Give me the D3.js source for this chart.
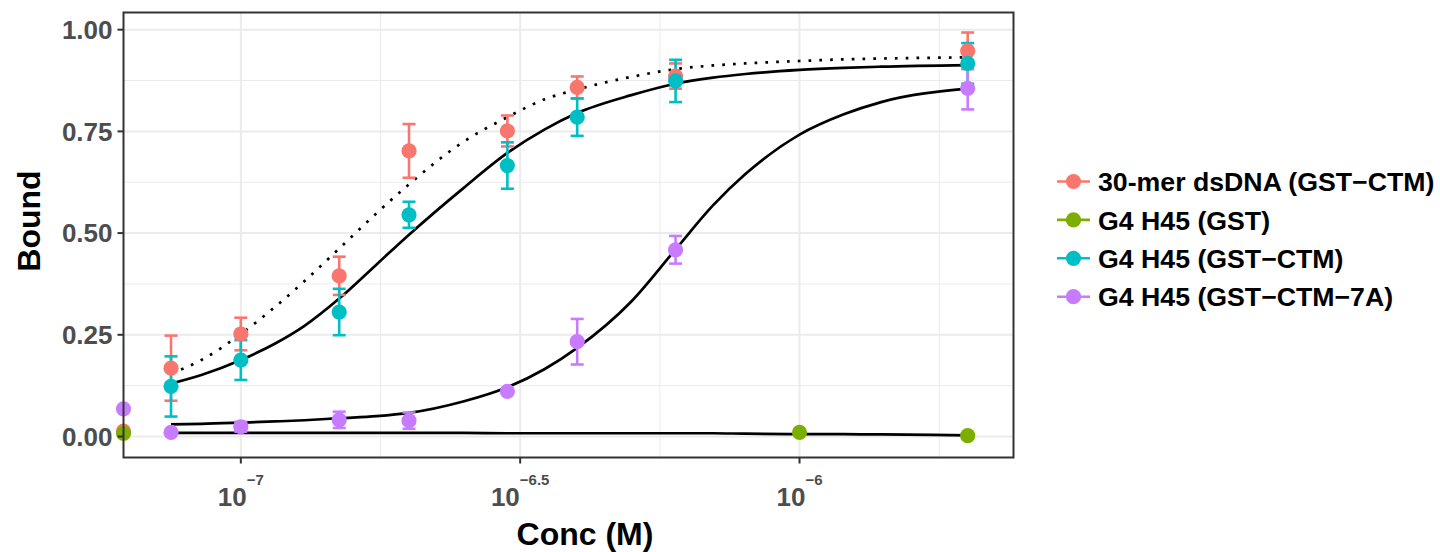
<!DOCTYPE html>
<html>
<head>
<meta charset="utf-8">
<script src="https://cdn.jsdelivr.net/npm/d3@7"></script>
<style>
  html, body { margin: 0; padding: 0; background: #fff; }
  svg { display: block; }
  text { font-family: "Liberation Sans", Arial, sans-serif; font-weight: bold; }
</style>
</head>
<body>
<svg id="chart" width="1440" height="552"></svg>
<script>
// ---------------- data ----------------
const seriesNames = ["30-mer dsDNA (GST\u2212CTM)", "G4 H45 (GST)", "G4 H45 (GST\u2212CTM)", "G4 H45 (GST\u2212CTM\u22127A)"];
const seriesColors = ["#F8766D", "#7CAE00", "#00BFC4", "#C77CFF"];

// concentration 0 = plotted at the left panel edge (-Inf on log axis)
const dsConc  = [0, 7.5e-8, 1e-7, 1.5e-7, 2e-7, 3e-7, 4e-7, 6e-7, 2e-6];
const dsBound = [0.013, 0.168, 0.252, 0.395, 0.702, 0.751, 0.858, 0.886, 0.948];
const dsErr   = [0, 0.080, 0.040, 0.047, 0.066, 0.038, 0.027, 0.031, 0.045];

const gstConc  = [0, 1e-6, 2e-6];
const gstBound = [0.008, 0.010, 0.002];
const gstErr   = [0, 0, 0];

const ctmConc  = [7.5e-8, 1e-7, 1.5e-7, 2e-7, 3e-7, 4e-7, 6e-7, 2e-6];
const ctmBound = [0.123, 0.188, 0.306, 0.545, 0.666, 0.785, 0.874, 0.917];
const ctmErr   = [0.074, 0.049, 0.057, 0.032, 0.057, 0.046, 0.052, 0.050];

const a7Conc  = [0, 7.5e-8, 1e-7, 1.5e-7, 2e-7, 3e-7, 4e-7, 6e-7, 2e-6];
const a7Bound = [0.068, 0.010, 0.024, 0.041, 0.039, 0.111, 0.233, 0.459, 0.856];
const a7Err   = [0, 0.004, 0.012, 0.020, 0.020, 0.006, 0.056, 0.034, 0.052];

// fitted curves
const fitConc = [7.5e-8, 8.5e-8, 1e-7, 1.15e-7, 1.3e-7, 1.5e-7, 1.75e-7, 2e-7, 2.5e-7, 3e-7, 3.5e-7, 4e-7, 5e-7, 6e-7, 7e-7, 8e-7, 1e-6, 1.2e-6, 1.4e-6, 2e-6];
const fitDs   = [0.155, 0.188, 0.252, 0.318, 0.382, 0.462, 0.549, 0.620, 0.724, 0.785, 0.829, 0.853, 0.884, 0.903, 0.912, 0.917, 0.923, 0.927, 0.929, 0.932];
const fitGst  = [0.009, 0.009, 0.009, 0.009, 0.009, 0.009, 0.009, 0.009, 0.009, 0.008, 0.008, 0.008, 0.008, 0.008, 0.008, 0.007, 0.006, 0.006, 0.005, 0.003];
const fitCtm  = [0.130, 0.151, 0.188, 0.228, 0.272, 0.339, 0.423, 0.496, 0.610, 0.697, 0.755, 0.795, 0.839, 0.867, 0.882, 0.891, 0.901, 0.906, 0.909, 0.913];
const fitA7   = [0.030, 0.031, 0.034, 0.037, 0.040, 0.045, 0.050, 0.058, 0.086, 0.121, 0.166, 0.218, 0.332, 0.460, 0.568, 0.645, 0.742, 0.792, 0.822, 0.855];

const xTickExps  = [-7, -6.5, -6];
const xTickSups  = ["\u22127", "\u22126.5", "\u22126"];
const xMinorExps = [-6.75, -6.25, -5.75];
const yTicks     = [0, 0.25, 0.5, 0.75, 1.0];
const yTickLabels = ["0.00", "0.25", "0.50", "0.75", "1.00"];
const yMinor     = [0.125, 0.375, 0.625, 0.875];
const xDomain = [Math.pow(10, -7.21), Math.pow(10, -5.617)];
const yDomain = [-0.0516, 1.0422];

// ---------------- layout ----------------
const svg = d3.select("#chart");
const P = { left: 123.5, top: 12.5, width: 890, height: 445 };

const x = d3.scaleLog().domain(xDomain).range([P.left, P.left + P.width]);
const y = d3.scaleLinear().domain(yDomain).range([P.top + P.height, P.top]);
const xPos = c => c > 0 ? x(c) : x.range()[0];

const series = [
  { name: seriesNames[0], color: seriesColors[0], conc: dsConc,  bound: dsBound,  err: dsErr,  fit: fitDs,  dotted: true },
  { name: seriesNames[1], color: seriesColors[1], conc: gstConc, bound: gstBound, err: gstErr, fit: fitGst, dotted: false },
  { name: seriesNames[2], color: seriesColors[2], conc: ctmConc, bound: ctmBound, err: ctmErr, fit: fitCtm, dotted: false },
  { name: seriesNames[3], color: seriesColors[3], conc: a7Conc,  bound: a7Bound,  err: a7Err,  fit: fitA7,  dotted: false }
];

// grid
const g = svg.append("g");
g.selectAll(".ymin").data(yMinor).enter().append("line")
  .attr("x1", P.left).attr("x2", P.left + P.width)
  .attr("y1", d => y(d)).attr("y2", d => y(d))
  .attr("stroke", "#EBEBEB").attr("stroke-width", 1);
g.selectAll(".xmin").data(xMinorExps).enter().append("line")
  .attr("x1", d => x(Math.pow(10, d))).attr("x2", d => x(Math.pow(10, d)))
  .attr("y1", P.top).attr("y2", P.top + P.height)
  .attr("stroke", "#EBEBEB").attr("stroke-width", 1);
g.selectAll(".ymaj").data(yTicks).enter().append("line")
  .attr("x1", P.left).attr("x2", P.left + P.width)
  .attr("y1", d => y(d)).attr("y2", d => y(d))
  .attr("stroke", "#EBEBEB").attr("stroke-width", 2);
g.selectAll(".xmaj").data(xTickExps).enter().append("line")
  .attr("x1", d => x(Math.pow(10, d))).attr("x2", d => x(Math.pow(10, d)))
  .attr("y1", P.top).attr("y2", P.top + P.height)
  .attr("stroke", "#EBEBEB").attr("stroke-width", 2);

// fitted curves
const line = d3.line().x(d => x(d[0])).y(d => y(d[1])).curve(d3.curveMonotoneX);
series.forEach(s => {
  svg.append("path")
    .attr("d", line(fitConc.map((c, i) => [c, s.fit[i]])))
    .attr("fill", "none").attr("stroke", "#000")
    .attr("stroke-width", 2.7)
    .attr("stroke-dasharray", s.dotted ? "2.7 8.1" : null);
});

// error bars
series.forEach(s => {
  s.conc.forEach((c, i) => {
    const e = s.err[i];
    if (!(e > 0)) return;
    const cx = xPos(c), y1 = y(s.bound[i] + e), y2 = y(s.bound[i] - e);
    const eg = svg.append("g").attr("stroke", s.color).attr("stroke-width", 2.6);
    eg.append("line").attr("x1", cx).attr("x2", cx).attr("y1", y1).attr("y2", y2);
    eg.append("line").attr("x1", cx - 6.5).attr("x2", cx + 6.5).attr("y1", y1).attr("y2", y1);
    eg.append("line").attr("x1", cx - 6.5).attr("x2", cx + 6.5).attr("y1", y2).attr("y2", y2);
  });
});

// points
series.forEach(s => {
  svg.append("g").selectAll("circle").data(s.conc.map((c, i) => [c, s.bound[i]])).enter()
    .append("circle")
    .attr("cx", d => xPos(d[0])).attr("cy", d => y(d[1]))
    .attr("r", 7.6).attr("fill", s.color);
});

// panel border
svg.append("rect").attr("x", P.left).attr("y", P.top)
  .attr("width", P.width).attr("height", P.height)
  .attr("fill", "none").attr("stroke", "#333333").attr("stroke-width", 2);

// y axis ticks + labels
yTicks.forEach((t, i) => {
  svg.append("line").attr("x1", P.left - 6).attr("x2", P.left).attr("y1", y(t)).attr("y2", y(t))
    .attr("stroke", "#333333").attr("stroke-width", 2);
  svg.append("text").attr("x", P.left - 11).attr("y", y(t)).attr("dy", "0.36em")
    .attr("text-anchor", "end").attr("fill", "#4D4D4D").attr("font-size", 26).text(yTickLabels[i]);
});

// x axis ticks + labels
xTickExps.forEach((e, i) => {
  const px = x(Math.pow(10, e));
  svg.append("line").attr("x1", px).attr("x2", px).attr("y1", P.top + P.height).attr("y2", P.top + P.height + 6)
    .attr("stroke", "#333333").attr("stroke-width", 2);
  const t = svg.append("text").attr("x", px).attr("y", 506).attr("text-anchor", "middle").attr("fill", "#4D4D4D");
  t.append("tspan").attr("font-size", 26).text("10");
  t.append("tspan").attr("font-size", 15).attr("dy", -21).text(xTickSups[i]);
});

// axis titles
svg.append("text").attr("x", 585).attr("y", 545).attr("text-anchor", "middle")
  .attr("font-size", 32).attr("fill", "#000").text("Conc (M)");
svg.append("text").attr("transform", `translate(40, 221) rotate(-90)`)
  .attr("text-anchor", "middle").attr("font-size", 32).attr("fill", "#000").text("Bound");

// legend
const lg = svg.append("g").attr("transform", "translate(1057, 181.5)");
series.forEach((s, i) => {
  const row = lg.append("g").attr("transform", `translate(0, ${i * 38.4})`);
  row.append("line").attr("x1", 0).attr("x2", 33).attr("y1", 0).attr("y2", 0)
    .attr("stroke", s.color).attr("stroke-width", 2.6);
  row.append("circle").attr("cx", 16.5).attr("cy", 0).attr("r", 7.6).attr("fill", s.color);
  row.append("text").attr("x", 41).attr("y", 0).attr("dy", "0.36em")
    .attr("font-size", 26.7).attr("fill", "#000").text(s.name);
});
</script>
</body>
</html>
